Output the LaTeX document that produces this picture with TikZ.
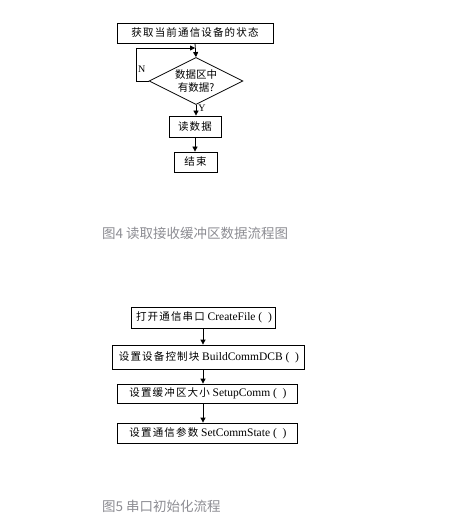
\documentclass[tikz,border=0pt]{standalone}
\usepackage{fontspec}
\usepackage{tikz}
\usetikzlibrary{shapes.geometric,arrows.meta}
\setmainfont{Liberation Serif}
\newfontfamily\cjk{Noto Sans CJK SC}
\newfontfamily\cjkwide[LetterSpace=11]{Noto Sans CJK SC}
\newcommand{\zhtxt}[1]{{\cjkwide\fontsize{10.5}{12}\selectfont #1}}
\definecolor{capgray}{RGB}{140,140,146}

\begin{document}
\begin{tikzpicture}[x=1pt,y=-1pt,
        box/.style={draw, line width=0.8pt, inner sep=0pt, font=\fontsize{11.5}{12}\selectfont},
        decide/.style={draw, diamond, aspect=2, line width=0.8pt, inner sep=0pt,
            minimum width=94pt, minimum height=47pt, align=center,
            font=\fontsize{10.5}{13}\selectfont},
        arr/.style={line width=0.8pt, -{Triangle[width=5pt,length=5pt]}},
        captxt/.style={anchor=west, text=capgray, inner sep=0pt, font=\cjk\fontsize{13.5}{15}\selectfont}]
        \useasboundingbox (0,0) rectangle (452,526);
        % figure 4
        \node[box, minimum width=156pt, minimum height=20pt] (get) at (195,33) {\zhtxt{获取当前通信设备的状态}};
        \node[decide] (has) at (196,81) {\cjk 数据区中\\\cjk 有数据?};
        \node[box, minimum width=52pt, minimum height=21pt] (read) at (195,126.5) {\zhtxt{读数据}};
        \node[box, minimum width=43pt, minimum height=20pt] (stop) at (195.5,162) {\zhtxt{结束}};
        \coordinate (join) at (195,48);
        \draw[arr] (get.south) -- (has.north);
        \draw[arr] (has.west) -- ++(-12,0) |- (join)
            node[pos=0.1, above right, inner sep=1pt] {N};
        \draw[arr] (has.south) -- (has.south |- read.north)
            node[pos=0.35, right, inner sep=2pt] {Y};
        \draw[arr] (read.south) -- (read.south |- stop.north);
        \node[captxt] (cap4) at (102,233) {图4 读取接收缓冲区数据流程图};
        % figure 5
        \node[box, minimum width=144pt, minimum height=21pt] (open) at (203,317.5) {\,\zhtxt{打开通信串口} CreateFile (~~)};
        \node[box, minimum width=192pt, minimum height=24pt] (dcb) at (208,357) {\,\zhtxt{设置设备控制块} BuildCommDCB (~~)};
        \node[box, minimum width=180pt, minimum height=19pt] (buf) at (207,393.5) {\,\zhtxt{设置缓冲区大小} SetupComm (~~)};
        \node[box, minimum width=180pt, minimum height=20pt] (par) at (207,433) {\,\zhtxt{设置通信参数} SetCommState (~~)};
        \draw[arr] (open.south) -- (open.south |- dcb.north);
        \draw[arr] (open.south |- dcb.south) -- (open.south |- buf.north);
        \draw[arr] (open.south |- buf.south) -- (open.south |- par.north);
        \node[captxt] (cap5) at (102,506) {图5 串口初始化流程};
    \end{tikzpicture}
\end{document}
